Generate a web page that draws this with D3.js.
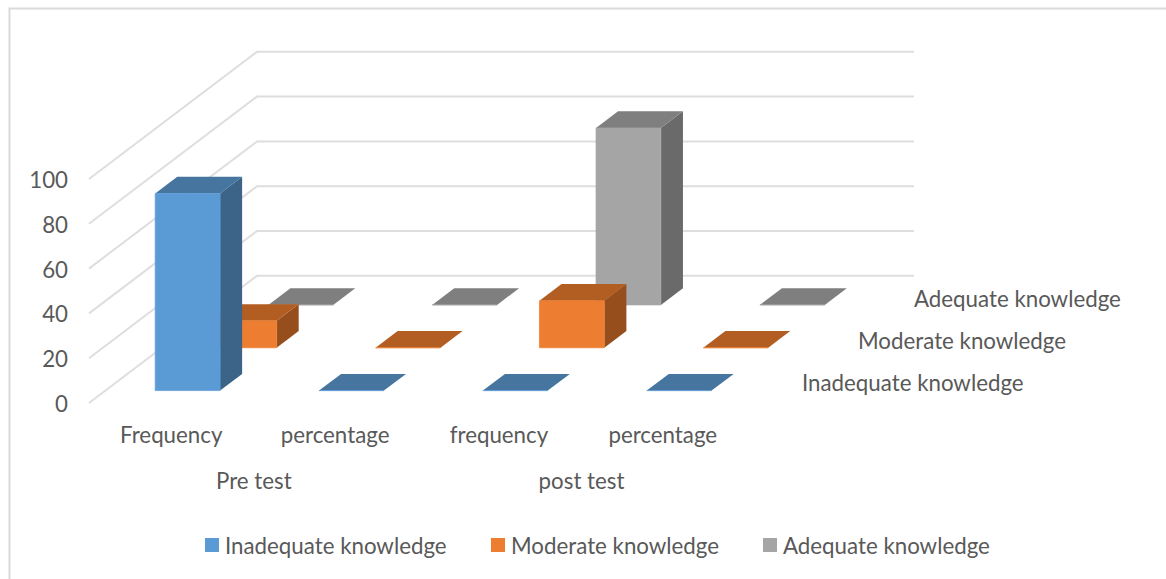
<!DOCTYPE html>
<html>
<head>
<meta charset="utf-8">
<script src="https://cdnjs.cloudflare.com/ajax/libs/d3/7.8.5/d3.min.js"></script>
<style>
  html, body { margin: 0; padding: 0; background: #fff; }
  svg { display: block; }
  text { font-family: Lato, "Open Sans", sans-serif; font-size: 22.3px; fill: #595959; }
</style>
</head>
<body>
<svg id="chart" width="1166" height="579"></svg>
<script>
// Knowledge levels before and after the test, as a 3-D clustered column chart.
const categories = ["Frequency", "percentage", "frequency", "percentage"];
const groups = ["Pre test", "post test"];
const seriesNames = ["Inadequate knowledge", "Moderate knowledge", "Adequate knowledge"];
const inadequate = [88, 0, 0, 0];
const moderate = [12, 0, 21, 0];
const adequate = [0, 0, 79, 0];
const seriesValues = [inadequate, moderate, adequate];
const yTicks = [0, 20, 40, 60, 80, 100];

const frontColors = ["#5B9BD5", "#ED7D31", "#A5A5A5"];
const topColors = ["#4675A0", "#B25D21", "#7F7F7F"];
const sideColors = ["#3B6488", "#964F1C", "#6A6A6A"];

const svg = d3.select("#chart");

// Oblique projection: the floor starts at the origin and depth runs up and to the right.
const originX = 89, depthDx = 56, depthDy = -42.4, floorWidth = 657;
const x = d3.scaleBand().domain(d3.range(categories.length)).range([-1, 657])
  .paddingInner(0.604).paddingOuter(0.31);
const z = d3.scaleBand().domain(d3.range(seriesNames.length)).range([0, 3])
  .paddingInner(0.61).paddingOuter(0.29);
const y = d3.scaleLinear().domain([0, 100]).range([403, 179]);

const project = (px, depth, value) => [
  originX + px + depth * depthDx,
  y(value) + depth * depthDy
];
const polygon = pts => pts.map(p => p.join(",")).join(" ");

// Chart frame, only the top and left edges remain visible
svg.append("path")
  .attr("d", "M9.5,579V8.5H1166")
  .attr("fill", "none").attr("stroke", "#DADADA").attr("stroke-width", 2);

// Gridlines on the left and back walls
const grid = svg.append("g").attr("fill", "none").attr("stroke", "#DEDEDE").attr("stroke-width", 2);
grid.selectAll("polyline").data(yTicks).join("polyline")
  .attr("points", d => polygon([project(0, 0, d), project(0, 3, d), project(floorWidth, 3, d)]));

// Value axis labels
svg.append("g").selectAll("text").data(yTicks).join("text")
  .attr("x", 68).attr("y", d => y(d) + 9)
  .attr("text-anchor", "end")
  .text(d => d);

// Columns are painted back to front and right to left so nearer faces overlap correctly
const bars = svg.append("g");
d3.range(seriesNames.length).reverse().forEach(s => {
  d3.range(categories.length).reverse().forEach(c => {
    const v = seriesValues[s][c];
    const x0 = x(c), x1 = x0 + x.bandwidth();
    const d0 = z(s), d1 = d0 + z.bandwidth();
    const g = bars.append("g");
    if (v > 0) {
      g.append("polygon")
        .attr("points", polygon([project(x1, d0, 0), project(x1, d1, 0), project(x1, d1, v), project(x1, d0, v)]))
        .attr("fill", sideColors[s]);
    }
    g.append("polygon")
      .attr("points", polygon([project(x0, d0, v), project(x1, d0, v), project(x1, d1, v), project(x0, d1, v)]))
      .attr("fill", topColors[s]);
    g.append("polygon")
      .attr("points", polygon([project(x0, d0, 0), project(x1, d0, 0), project(x1, d0, v), project(x0, d0, v)]))
      .attr("fill", frontColors[s])
      .attr("stroke", frontColors[s]).attr("stroke-width", 1).attr("stroke-opacity", 0.7);
  });
});

// Category labels under the floor
svg.append("g").selectAll("text").data(categories).join("text")
  .attr("x", (d, i) => originX + x(i) + x.bandwidth() / 2)
  .attr("y", 443)
  .attr("text-anchor", "middle")
  .text(d => d);

// Group labels centred under each pair of categories
svg.append("g").selectAll("text").data(groups).join("text")
  .attr("x", (d, i) => originX + 1 + x.step() * (2 * i + 1))
  .attr("y", 489)
  .attr("text-anchor", "middle")
  .text(d => d);

// Series labels along the depth axis
svg.append("g").selectAll("text").data(seriesNames).join("text")
  .attr("x", (d, i) => project(floorWidth, i + 1, 0)[0])
  .attr("y", (d, i) => project(floorWidth, i + 0.5, 0)[1] + 9.5)
  .text(d => d);

// Legend
const legendSwatchX = [205, 491, 763];
const legend = svg.append("g").selectAll("g").data(seriesNames).join("g")
  .attr("transform", (d, i) => `translate(${legendSwatchX[i]},538)`);
legend.append("rect").attr("width", 14).attr("height", 14).attr("fill", (d, i) => frontColors[i]);
legend.append("text").attr("x", 20).attr("y", 15.5).text(d => d);
</script>
</body>
</html>
